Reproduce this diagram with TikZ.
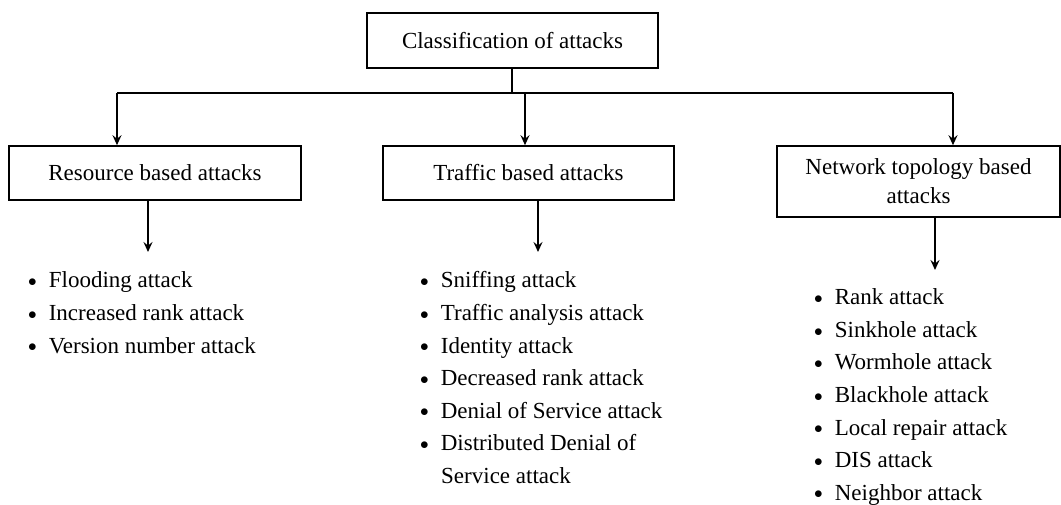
\documentclass[tikz,border=0pt]{standalone}
\usepackage{fontspec}
\setmainfont{Liberation Serif}
\usetikzlibrary{arrows.meta}

\tikzset{
  box/.style={draw, line width=1.6pt, inner sep=0pt, align=center,
    font=\fontsize{23}{29}\selectfont},
  link/.style={line width=1.6pt},
  arrowlink/.style={line width=1.6pt, -{Stealth[length=10pt,width=9pt,inset=3.5pt]}},
  item/.style={anchor=base west, inner sep=0pt, font=\fontsize{23}{29}\selectfont},
}
\newcommand{\bul}{\raisebox{1.5pt}{\fontsize{18}{18}\selectfont$\bullet$}\hspace{12pt}}

\begin{document}
\begin{tikzpicture}[x=1pt,y=-1pt]
  \useasboundingbox (0,0) rectangle (1061,505);

  % category boxes
  \node[box, minimum width=291pt, minimum height=55pt] (root) at (512.5,40.5)
    {Classification of attacks};
  \node[box, minimum width=292pt, minimum height=54pt] (res) at (155,173)
    {Resource based attacks};
  \node[box, minimum width=291pt, minimum height=54pt] (traf) at (528.5,173)
    {Traffic based attacks};
  \node[box, minimum width=283pt, minimum height=71pt] (net) at (918.5,181.5)
    {Network topology based\\attacks};

  % distribution bus below the root box
  \coordinate (bus) at (512,93);
  \coordinate (busL) at (117,93);
  \coordinate (busM) at (525,93);
  \coordinate (busR) at (953,93);
  \draw[link] (root.south -| bus) -- (bus);
  \draw[link] (busL) -- (busR);
  \draw[arrowlink] (busL) -- (busL |- res.north);
  \draw[arrowlink] (busM) -- (busM |- traf.north);
  \draw[arrowlink] (busR) -- (busR |- net.north);

  % arrows down to the lists
  \coordinate (resEnd) at (148,252);
  \coordinate (trafEnd) at (538,252);
  \coordinate (netEnd) at (935,270);
  \draw[arrowlink] (res.south -| resEnd) -- (resEnd);
  \draw[arrowlink] (traf.south -| trafEnd) -- (trafEnd);
  \draw[arrowlink] (net.south -| netEnd) -- (netEnd);

  % resource based attacks
  \foreach \t [count=\i] in {Flooding attack, Increased rank attack, Version number attack}
    \node[item] (r\i) at (28,{288+(\i-1)*32.5}) {\bul\t};

  % traffic based attacks
  \foreach \t [count=\i] in {Sniffing attack, Traffic analysis attack, Identity attack,
      Decreased rank attack, Denial of Service attack, Distributed Denial of}
    \node[item] (t\i) at (420,{288+(\i-1)*32.5}) {\bul\t};
  \node[item] (t7) at (441,{288+6*32.5}) {Service attack};

  % network topology based attacks
  \foreach \t [count=\i] in {Rank attack, Sinkhole attack, Wormhole attack, Blackhole attack,
      Local repair attack, DIS attack, Neighbor attack}
    \node[item] (n\i) at (814,{305+(\i-1)*32.5}) {\bul\t};
\end{tikzpicture}
\end{document}
